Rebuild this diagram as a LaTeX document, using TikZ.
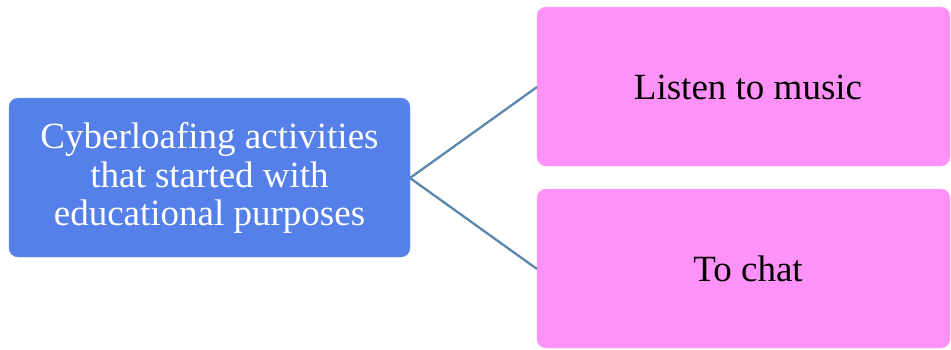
\documentclass[tikz,border=0pt]{standalone}
\usepackage{fontspec}
\setmainfont{Liberation Serif}
\begin{document}
\begin{tikzpicture}[x=1pt,y=-1pt,
  leftbox/.style={fill=boxblue, draw=boxblue!80!white, rounded corners=9pt, inner sep=0pt},
  rightbox/.style={fill=boxpink, draw=boxpink!80!white, rounded corners=9pt, inner sep=0pt},
  link/.style={draw=linkblue, line width=2.3pt}]
\definecolor{boxblue}{HTML}{5580E9}
\definecolor{boxpink}{HTML}{FF92F8}
\definecolor{linkblue}{HTML}{5B87AE}
\useasboundingbox (0,0) rectangle (951,349);
\path[leftbox] (9,98) rectangle (410,257);
\path[rightbox] (537,7) rectangle (950,166);
\path[rightbox] (537,189) rectangle (950,348);
\node[align=center, text=white, font=\fontsize{37}{38.5}\selectfont] (src) at (209.5,178)
  {Cyberloafing activities\\that started with\\educational purposes};
\node[font=\fontsize{37}{38}\selectfont] (a) at (748,87) {Listen to music};
\node[font=\fontsize{37}{38}\selectfont] (b) at (748,269) {To chat};
\coordinate (s) at (410,178);
\coordinate (ta) at (537,87);
\coordinate (tb) at (537,269);
\draw[link] (s) -- (ta);
\draw[link] (s) -- (tb);
\end{tikzpicture}
\end{document}
